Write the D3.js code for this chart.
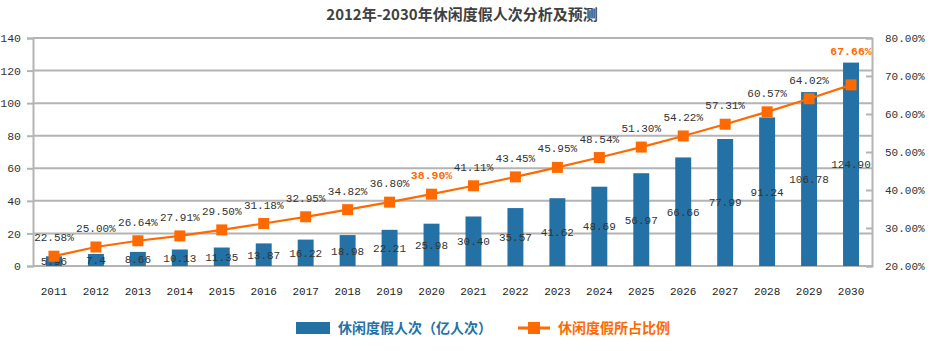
<!DOCTYPE html>
<html>
<head>
<meta charset="utf-8">
<script src="https://cdn.jsdelivr.net/npm/d3@7"></script>
<style>
body { margin: 0; background: #fff; }
svg text { font-family: "Liberation Mono", "DejaVu Sans Mono", monospace; }
.cjk { font-family: "Noto Sans CJK SC", sans-serif; }
</style>
</head>
<body>
<div id="chart"></div>
<script>
const years = ["2011","2012","2013","2014","2015","2016","2017","2018","2019","2020",
  "2021","2022","2023","2024","2025","2026","2027","2028","2029","2030"];
const visitors = [5.96, 7.4, 8.66, 10.13, 11.35, 13.87, 16.22, 18.98, 22.21, 25.98,
  30.40, 35.57, 41.62, 48.69, 56.97, 66.66, 77.99, 91.24, 106.78, 124.90];
const visitorLabels = ["5.96","7.4","8.66","10.13","11.35","13.87","16.22","18.98","22.21","25.98",
  "30.40","35.57","41.62","48.69","56.97","66.66","77.99","91.24","106.78","124.90"];
const share = [22.58, 25.00, 26.64, 27.91, 29.50, 31.18, 32.95, 34.82, 36.80, 38.90,
  41.11, 43.45, 45.95, 48.54, 51.30, 54.22, 57.31, 60.57, 64.02, 67.66];
const highlightYears = ["2020", "2030"];
const leftTicks = [0, 20, 40, 60, 80, 100, 120, 140];
const rightTicks = [20, 30, 40, 50, 60, 70, 80];

const W = 932, H = 351;
const margin = { top: 38, right: 60, bottom: 85, left: 33 };
const blue = "#2471a5", orange = "#ff6a00", grid = "#b4b4b4";

const svg = d3.select("#chart").append("svg")
  .attr("width", W).attr("height", H);

// title
svg.append("text")
  .attr("class", "cjk")
  .attr("x", 462).attr("y", 20)
  .attr("text-anchor", "middle")
  .attr("font-size", 15).attr("font-weight", "bold")
  .attr("fill", "#404040")
  .text("2012年-2030年休闲度假人次分析及预测");

const x = d3.scaleBand()
  .domain(years)
  .range([margin.left, W - margin.right])
  .paddingInner(0.62).paddingOuter(0.31);

const yL = d3.scaleLinear().domain([0, 140]).range([H - margin.bottom, margin.top]);
const yR = d3.scaleLinear().domain([20, 80]).range([H - margin.bottom, margin.top]);

// gridlines
svg.append("g")
  .selectAll("line").data(leftTicks).join("line")
  .attr("x1", margin.left).attr("x2", W - margin.right)
  .attr("y1", d => yL(d)).attr("y2", d => yL(d))
  .attr("stroke", grid).attr("stroke-width", 2);

// left axis
const axL = svg.append("g")
  .attr("transform", `translate(${margin.left},0)`)
  .call(d3.axisLeft(yL).tickValues(leftTicks).tickSize(6).tickPadding(6));
axL.select(".domain").attr("stroke", grid).attr("stroke-width", 2);
axL.selectAll(".tick line").attr("stroke", grid).attr("stroke-width", 2);
axL.selectAll("text").attr("font-family", "Liberation Sans, sans-serif")
  .attr("font-size", 11.5).attr("fill", "#333");

// right axis (ticks inside)
const axR = svg.append("g")
  .attr("transform", `translate(${W - margin.right},0)`)
  .call(d3.axisRight(yR).tickValues(rightTicks).tickSize(-6).tickPadding(13)
    .tickFormat(d => d.toFixed(2) + "%"));
axR.select(".domain").attr("stroke", grid).attr("stroke-width", 2);
axR.selectAll(".tick line").attr("stroke", grid).attr("stroke-width", 2);
axR.selectAll("text").attr("font-size", 11).attr("fill", "#333");

// x axis labels
const axX = svg.append("g")
  .attr("transform", `translate(0,${H - margin.bottom})`)
  .call(d3.axisBottom(x).tickSize(0).tickPadding(21));
axX.select(".domain").remove();
axX.selectAll("text").attr("font-family", "Liberation Sans Narrow, Liberation Sans, sans-serif")
  .attr("font-size", 11).attr("fill", "#222");

// bars
svg.append("g")
  .selectAll("rect").data(visitors).join("rect")
  .attr("x", (d, i) => x(years[i]))
  .attr("width", x.bandwidth())
  .attr("y", d => yL(d))
  .attr("height", d => yL(0) - yL(d))
  .attr("fill", blue);

// bar labels (centered inside)
svg.append("g")
  .selectAll("text").data(visitors).join("text")
  .attr("x", (d, i) => x(years[i]) + x.bandwidth() / 2)
  .attr("y", d => (yL(d) + yL(0)) / 2 + 4)
  .attr("text-anchor", "middle")
  .attr("font-size", 11).attr("fill", "#333")
  .text((d, i) => visitorLabels[i]);

// line
const cx = (d, i) => x(years[i]) + x.bandwidth() / 2;
svg.append("path")
  .datum(share)
  .attr("fill", "none").attr("stroke", orange).attr("stroke-width", 2.2)
  .attr("d", d3.line().x(cx).y(d => yR(d)));

svg.append("g")
  .selectAll("rect").data(share).join("rect")
  .attr("x", (d, i) => cx(d, i) - 5.5)
  .attr("y", d => yR(d) - 5.5)
  .attr("width", 11).attr("height", 11)
  .attr("fill", orange);

// line labels: above the point, and kept clear of the bar top
svg.append("g")
  .selectAll("text").data(share).join("text")
  .attr("x", cx)
  .attr("y", (d, i) => Math.min(yR(d) - 15, yL(visitors[i]) - 8))
  .attr("text-anchor", "middle")
  .attr("font-size", (d, i) => highlightYears.includes(years[i]) ? 11.5 : 11)
  .attr("font-weight", (d, i) => highlightYears.includes(years[i]) ? "bold" : "normal")
  .attr("fill", (d, i) => highlightYears.includes(years[i]) ? orange : "#333")
  .text(d => d.toFixed(2) + "%");

// legend
const lg = svg.append("g").attr("transform", "translate(0,328)");
lg.append("rect").attr("x", 296).attr("y", -6).attr("width", 34).attr("height", 12).attr("fill", blue);
lg.append("text").attr("class", "cjk").attr("x", 338).attr("y", 5)
  .attr("font-size", 14).attr("font-weight", "bold").attr("fill", blue)
  .text("休闲度假人次（亿人次）");
lg.append("line").attr("x1", 518).attr("x2", 550).attr("y1", 0).attr("y2", 0)
  .attr("stroke", orange).attr("stroke-width", 3);
lg.append("rect").attr("x", 528).attr("y", -6).attr("width", 12).attr("height", 12).attr("fill", orange);
lg.append("text").attr("class", "cjk").attr("x", 558).attr("y", 5)
  .attr("font-size", 14).attr("font-weight", "bold").attr("fill", orange)
  .text("休闲度假所占比例");
</script>
</body>
</html>
